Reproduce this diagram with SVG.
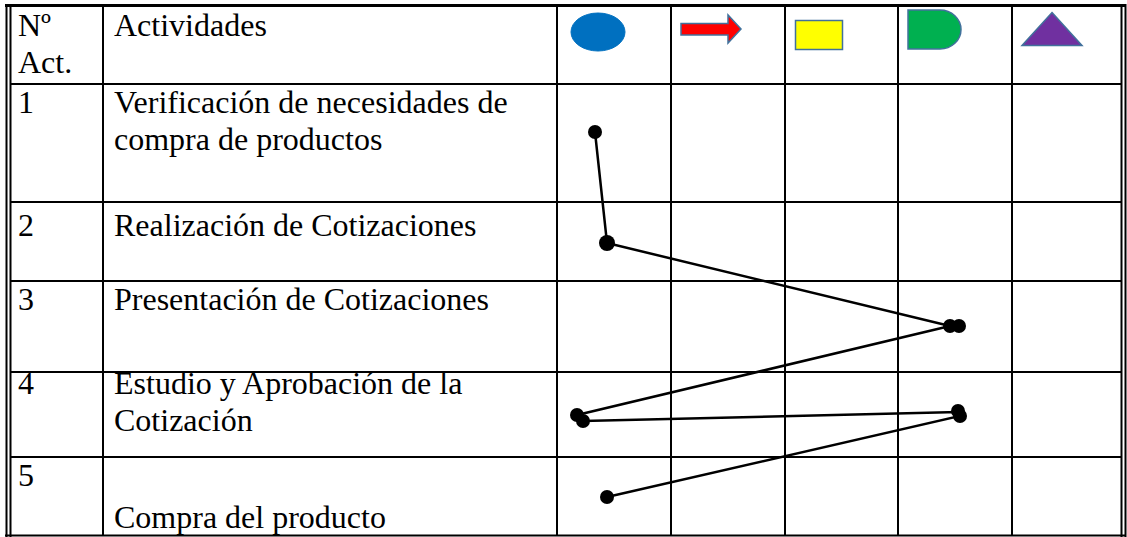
<svg xmlns="http://www.w3.org/2000/svg" width="1127" height="537" viewBox="0 0 1127 537">
<style>
.t{font-family:"Liberation Serif","Times New Roman",serif;font-size:32px;fill:#000}
.g{stroke:#000;stroke-width:2;fill:none}
.c{stroke:#000;stroke-width:2.5;fill:none}
.d{fill:#000}
.ic{stroke:#41719C;stroke-width:1.5}
</style>
<rect width="1127" height="537" fill="#fff"/>
<g id="grid">
<line class="g" x1="5" y1="5.5" x2="1126" y2="5.5" style="stroke-width:3"/>
<line class="g" x1="5" y1="535.5" x2="1126" y2="535.5"/>
<line class="g" x1="6.5" y1="4" x2="6.5" y2="537"/>
<line class="g" x1="10.5" y1="4" x2="10.5" y2="537"/>
<line class="g" x1="1121.5" y1="4" x2="1121.5" y2="537"/>
<line class="g" x1="1125.5" y1="4" x2="1125.5" y2="537"/>
<line class="g" x1="103" y1="5" x2="103" y2="536"/>
<line class="g" x1="557" y1="5" x2="557" y2="536"/>
<line class="g" x1="671" y1="5" x2="671" y2="536"/>
<line class="g" x1="785" y1="5" x2="785" y2="536"/>
<line class="g" x1="898" y1="5" x2="898" y2="536"/>
<line class="g" x1="1012" y1="5" x2="1012" y2="536"/>
<line class="g" x1="10" y1="84" x2="1122" y2="84"/>
<line class="g" x1="10" y1="202" x2="1122" y2="202"/>
<line class="g" x1="10" y1="281" x2="1122" y2="281"/>
<line class="g" x1="10" y1="372" x2="1122" y2="372"/>
<line class="g" x1="10" y1="457" x2="1122" y2="457"/>
</g>
<g id="header">
<text class="t" x="18" y="36">Nº</text>
<text class="t" x="18" y="73">Act.</text>
<text class="t" x="114" y="36">Actividades</text>
<ellipse cx="598" cy="32" rx="27" ry="19" fill="#0070C0" stroke="#0070C0" stroke-width="1"/>
<path class="ic" d="M681,23.5 H728 V15 L741,29 L728,43 V35 H681 Z" fill="#FF0000"/>
<rect class="ic" x="795.5" y="20.5" width="47" height="29" fill="#FFFF00"/>
<path class="ic" d="M908,10 H940 A21,19.5 0 0 1 940,49 H908 Z" fill="#00B050"/>
<path class="ic" d="M1052,12.5 L1082,45.5 H1022 Z" fill="#7030A0"/>
</g>
<g id="row1">
<text class="t" x="18" y="113">1</text>
<text class="t" x="114" y="113">Verificación de necesidades de</text>
<text class="t" x="114" y="150">compra de productos</text>
</g>
<g id="row2">
<text class="t" x="18" y="236">2</text>
<text class="t" x="114" y="236">Realización de Cotizaciones</text>
</g>
<g id="row3">
<text class="t" x="18" y="310">3</text>
<text class="t" x="114" y="310">Presentación de Cotizaciones</text>
</g>
<g id="row4">
<text class="t" x="18" y="394">4</text>
<text class="t" x="114" y="394">Estudio y Aprobación de la</text>
<text class="t" x="114" y="431">Cotización</text>
</g>
<g id="row5">
<text class="t" x="18" y="486">5</text>
<text class="t" x="114" y="528">Compra del producto</text>
</g>
<g id="connectors">
<polyline class="c" points="595,132 607,243 950,326 577,415 583,421 958,412 960,416 607,497"/>
<circle class="d" cx="595" cy="132" r="7"/>
<circle class="d" cx="607" cy="243" r="8"/>
<circle class="d" cx="950" cy="326" r="7"/>
<circle class="d" cx="959" cy="326" r="7"/>
<circle class="d" cx="577" cy="415" r="7"/>
<circle class="d" cx="583" cy="421" r="7"/>
<circle class="d" cx="958" cy="411" r="7"/>
<circle class="d" cx="960" cy="416" r="7"/>
<circle class="d" cx="607" cy="497" r="7"/>
</g>
</svg>
